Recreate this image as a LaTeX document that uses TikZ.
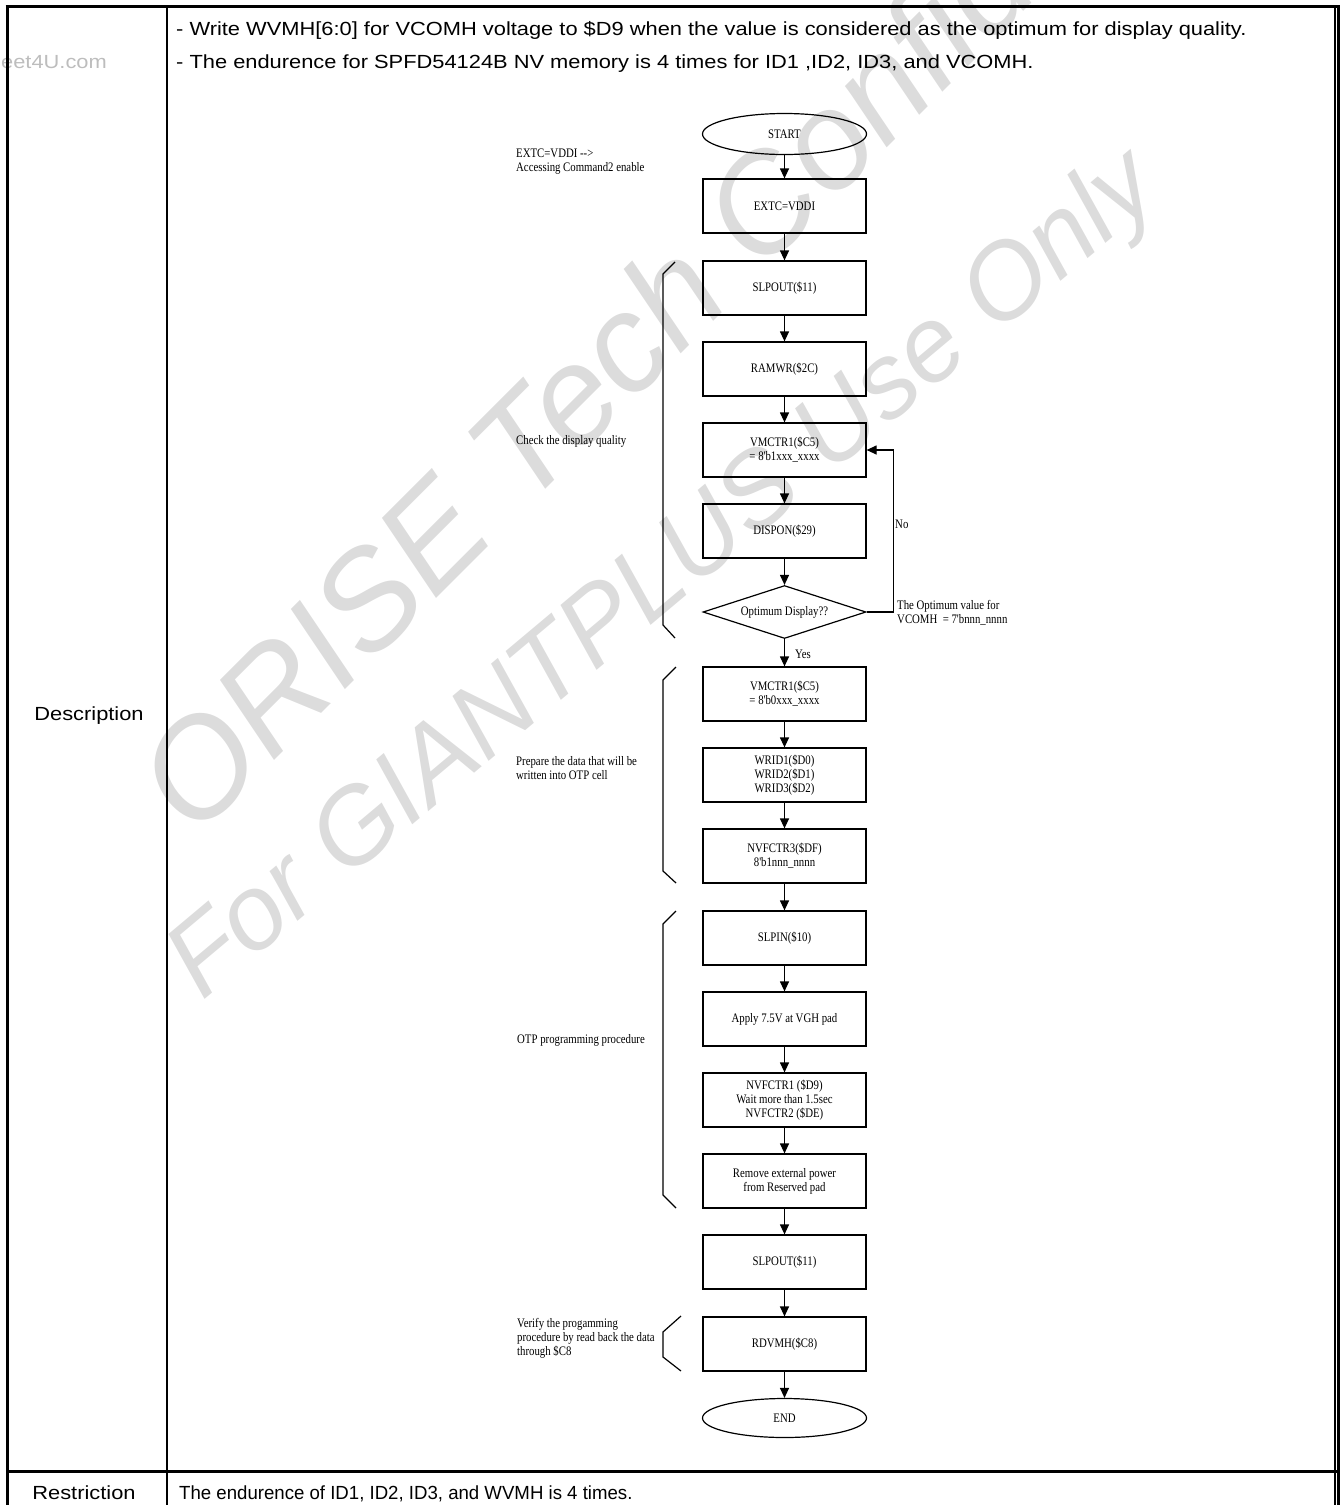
\documentclass[tikz,border=0pt]{standalone}
\usepackage{fontspec}
\setmainfont{Liberation Serif}
\newfontfamily\arialc[FakeStretch=1.15]{Liberation Sans}
\newfontfamily\arialn[FakeStretch=0.98]{Liberation Sans}
\newfontfamily\timesc[FakeStretch=0.83]{Liberation Serif}
\newfontfamily\arialw{Liberation Sans}
\usetikzlibrary{shapes.geometric,arrows.meta}
\definecolor{wm}{HTML}{DCDCDC}
\definecolor{wmsite}{HTML}{BDBDBD}
\begin{document}
\begin{tikzpicture}[x=1pt,y=-1pt,
  tfont/.style={font=\timesc\fontsize{13}{14}\selectfont},
  flowbox/.style={draw, line width=1.2pt, minimum width=163pt, minimum height=54pt, inner sep=0pt, align=center, tfont},
  term/.style={ellipse, draw, line width=1.2pt, minimum width=164pt, minimum height=41pt, inner sep=0pt, tfont},
  decision/.style={diamond, draw, line width=1.2pt, minimum width=163pt, minimum height=53pt, inner sep=0pt, shape aspect=3, tfont},
  arr/.style={line width=1.2pt, -{Triangle[length=10pt,width=9pt]}},
  note/.style={tfont, align=left, anchor=west, inner sep=0pt},
  brace/.style={line width=1.2pt},
  tline/.style={line width=3pt},
  bigtext/.style={font=\arialc\fontsize{19}{19}\selectfont, inner sep=0pt},
  watermark/.style={font=\arialw\itshape, text=wm, inner sep=0pt, anchor=base west}
]
\useasboundingbox (0,0) rectangle (1340,1505);

% watermarks
\node[watermark, font=\arialw\itshape\fontsize{138}{138}\selectfont, rotate=45] (wm1) at (195,840) {ORISE Tech Confidential};
\node[watermark, font=\arialw\itshape\fontsize{106}{106}\selectfont, rotate=40] (wm2) at (202,1002) {For GIANTPLUS Use Only};
\node[font=\arialc\fontsize{19}{19}\selectfont, text=wmsite, inner sep=0pt, anchor=base east] (site) at (107,68) {eet4U.com};

% table
\draw[tline] (5.5,6.5) -- (1339.5,6.5);
\draw[line width=3.5pt] (7.5,5) -- (7.5,1505);
\draw[line width=2.2pt] (166.7,6) -- (166.7,1505);
\draw[line width=1.6pt] (1335.2,6) -- (1335.2,1505);
\draw[line width=2.4pt] (1338.6,5) -- (1338.6,1505);
\draw[tline] (7,1471) -- (1337,1471);

% table texts
\node[bigtext, anchor=base west] (l1) at (176,35) {- Write WVMH[6:0] for VCOMH voltage to \$D9 when the value is considered as the optimum for display quality.};
\node[bigtext, anchor=base west] (l2) at (176,68) {- The endurence for SPFD54124B NV memory is 4 times for ID1 ,ID2, ID3, and VCOMH.};
\node[bigtext, anchor=base] (desc) at (89,720) {Description};
\node[bigtext, anchor=base] (restr) at (84,1499) {Restriction};
\node[font=\arialn\fontsize{19}{19}\selectfont, inner sep=0pt, anchor=base west] (rtext) at (179,1499) {The endurence of ID1, ID2, ID3, and WVMH is 4 times.};

% flowchart nodes
\node[term] (start) at (784.5,134) {START};
\node[flowbox] (extc) at (784.5,206) {EXTC=VDDI};
\node[flowbox] (slp1) at (784.5,288) {SLPOUT(\$11)};
\node[flowbox] (ramwr) at (784.5,369) {RAMWR(\$2C)};
\node[flowbox] (vm1) at (784.5,450) {VMCTR1(\$C5)\\= 8'b1xxx\_xxxx};
\node[flowbox] (dispon) at (784.5,531) {DISPON(\$29)};
\node[decision] (opt) at (784.5,612) {Optimum Display??};
\node[flowbox] (vm2) at (784.5,694) {VMCTR1(\$C5)\\= 8'b0xxx\_xxxx};
\node[flowbox] (wrid) at (784.5,775) {WRID1(\$D0)\\WRID2(\$D1)\\WRID3(\$D2)};
\node[flowbox] (nvf3) at (784.5,856) {NVFCTR3(\$DF)\\8'b1nnn\_nnnn};
\node[flowbox] (slpin) at (784.5,938) {SLPIN(\$10)};
\node[flowbox] (apply) at (784.5,1019) {Apply 7.5V at VGH pad};
\node[flowbox] (nvf1) at (784.5,1100) {NVFCTR1 (\$D9)\\Wait more than 1.5sec\\NVFCTR2 (\$DE)};
\node[flowbox] (remove) at (784.5,1181) {Remove external power\\ from Reserved pad};
\node[flowbox] (slp2) at (784.5,1262) {SLPOUT(\$11)};
\node[flowbox] (rdvmh) at (784.5,1344) {RDVMH(\$C8)};
\node[term, minimum height=39pt] (end) at (784.5,1418) {END};

% connectors
\draw[arr] (start.south) -- (extc.north);
\draw[arr] (extc.south) -- (slp1.north);
\draw[arr] (slp1.south) -- (ramwr.north);
\draw[arr] (ramwr.south) -- (vm1.north);
\draw[arr] (vm1.south) -- (dispon.north);
\draw[arr] (dispon.south) -- (opt.north);
\draw[arr] (opt.south) -- (vm2.north);
\draw[arr] (vm2.south) -- (wrid.north);
\draw[arr] (wrid.south) -- (nvf3.north);
\draw[arr] (nvf3.south) -- (slpin.north);
\draw[arr] (slpin.south) -- (apply.north);
\draw[arr] (apply.south) -- (nvf1.north);
\draw[arr] (nvf1.south) -- (remove.north);
\draw[arr] (remove.south) -- (slp2.north);
\draw[arr] (slp2.south) -- (rdvmh.north);
\draw[arr] (rdvmh.south) -- (end.north);
\draw[arr] (opt.east) -- ++(27,0) |- (vm1.east);

% connector labels
\node[note] (yes) at (795,654) {Yes};
\node[note] (no) at (895,524) {No};
\node[note] (optv) at (897,613) {The Optimum value for\\VCOMH\ \ = 7'bnnn\_nnnn};

% side notes
\node[note] (n1) at (516,161.5) {EXTC=VDDI -\kern0pt->\\Accessing Command2 enable};
\node[note] (n2) at (516,441) {Check the display quality};
\node[note] (n3) at (516,768.5) {Prepare the data that will be\\written into OTP cell};
\node[note] (n4) at (517,1040) {OTP programming procedure};
\node[note] (n5) at (517,1338) {Verify the progamming\\procedure by read back the data\\through \$C8};

% brackets
\draw[brace] (675,262) -- (663,274) -- (663,625) -- (675,638);
\draw[brace] (676,667) -- (663,680) -- (663,871) -- (676,883);
\draw[brace] (676,911) -- (663,924) -- (663,1195) -- (676,1208);
\draw[brace] (681,1316) -- (663,1332) -- (663,1357) -- (681,1371);
\end{tikzpicture}
\end{document}
